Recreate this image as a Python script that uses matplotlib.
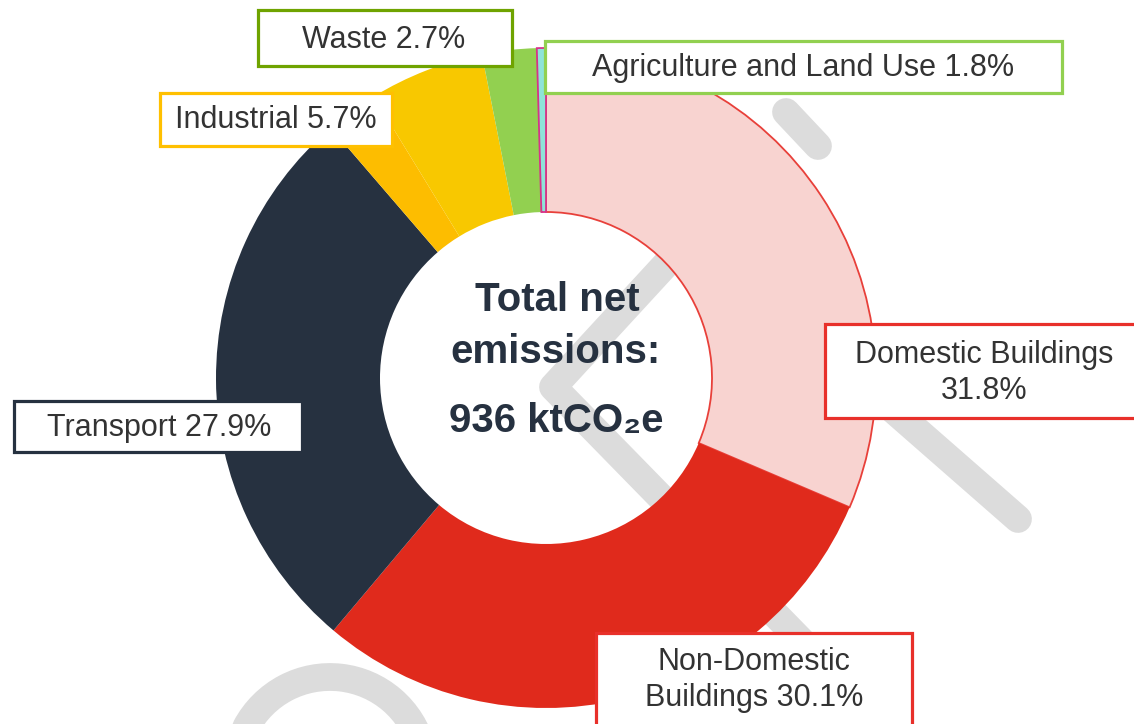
import matplotlib
matplotlib.use("Agg")
import matplotlib.pyplot as plt
from matplotlib.patches import Rectangle, Arc
from matplotlib.lines import Line2D

# ---------------- data ----------------
sectors = ["Domestic Buildings", "Non-Domestic Buildings", "Transport", "(unlabelled)",
           "Industrial", "Waste", "Agriculture and Land Use"]
# share of the ring each slice occupies
drawn_share = [31.8, 30.1, 27.9, 2.6, 5.7, 2.7, 0.45]
# percentages printed in the labels
label_pct = [31.8, 30.1, 27.9, None, 5.7, 2.7, 1.8]
total_value = 936
total_unit = "ktCO₂e"

colors = ["#F8D3D0", "#E02A1C", "#263140", "#FDBD00", "#F8C800", "#92D050", "#8EE3D8"]
edge_colors = ["#E8403A", "none", "none", "none", "none", "none", "#D6338A"]
box_colors = ["#E8302A", "#E8302A", "#263140", None, "#FFC000", "#6FA300", "#92D050"]

W, H = 1134, 724
FONT = ["Liberation Sans", "DejaVu Sans"]

fig = plt.figure(figsize=(W / 100, H / 100), dpi=100)
ax = fig.add_axes([0, 0, 1, 1])


def Y(y):
    return H - y


# ---------------- watermark (background decoration) ----------------
wm = dict(color="#DCDCDC", lw=20, solid_capstyle="round", solid_joinstyle="round", zorder=0.5)
ax.add_line(Line2D([786, 818], [Y(112), Y(146)], **wm))
ax.add_line(Line2D([668, 553, 815], [Y(262), Y(387), Y(655)], **wm))
ax.add_line(Line2D([850, 1018], [Y(372), Y(519)], **wm))
arc = Arc((330, Y(772)), 190, 190, theta1=15, theta2=152, color="#DCDCDC", lw=20, zorder=0.5)
arc.set_capstyle("round")
ax.add_patch(arc)

# ---------------- donut ----------------
cx, cy, R, r = 546, 378, 330, 166
wedges, _ = ax.pie(drawn_share, colors=colors, startangle=90, counterclock=False,
                   radius=R, center=(cx, Y(cy)),
                   wedgeprops=dict(width=R - r, linewidth=0))
for w, ec in zip(wedges, edge_colors):
    w.set_zorder(1)
    if ec != "none":
        w.set_edgecolor(ec)
        w.set_linewidth(1.3)

# ---------------- centre text ----------------
tc = "#263140"
ax.text(557, Y(300), "Total net", ha="center", va="center", fontsize=29,
        fontweight="bold", color=tc, family=FONT, zorder=4)
ax.text(555, Y(352), "emissions:", ha="center", va="center", fontsize=29,
        fontweight="bold", color=tc, family=FONT, zorder=4)
ax.text(556, Y(421), f"{total_value} {total_unit}", ha="center", va="center", fontsize=29,
        fontweight="bold", color=tc, family=FONT, zorder=4)

# ---------------- label boxes ----------------
# (sector index, box x0, y0, x1, y1, text lines with centre positions)
label_lines = {
    5: [f"{sectors[5]} {label_pct[5]}%"],
    6: [f"{sectors[6]} {label_pct[6]}%"],
    4: [f"{sectors[4]} {label_pct[4]}%"],
    0: [sectors[0], f"{label_pct[0]}%"],
    2: [f"{sectors[2]} {label_pct[2]}%"],
    1: ["Non-Domestic", f"Buildings {label_pct[1]}%"],
}
box_geom = {
    5: (258, 10, 512, 66, 384, [40]),
    6: (545, 41, 1062, 93, 803, [68]),
    4: (160, 93, 392, 146, 276, [120]),
    0: (825, 324, 1150, 418, 984, [355, 391]),
    2: (14, 401, 302, 452, 159, [428]),
    1: (596, 633, 912, 740, 754, [662, 698]),
}
for idx, (x0, y0, x1, y1, tx, tys) in box_geom.items():
    ax.add_patch(Rectangle((x0, Y(y1)), x1 - x0, y1 - y0, facecolor="white",
                           edgecolor=box_colors[idx], lw=2.3, zorder=3))
    for line, ty in zip(label_lines[idx], tys):
        ax.text(tx, Y(ty), line, ha="center", va="center", fontsize=22,
                color="#333333", family=FONT, zorder=4)

ax.set_xlim(0, W)
ax.set_ylim(0, H)
ax.set_aspect("equal")
ax.axis("off")
fig.savefig("out.png", dpi=100, facecolor="white")
